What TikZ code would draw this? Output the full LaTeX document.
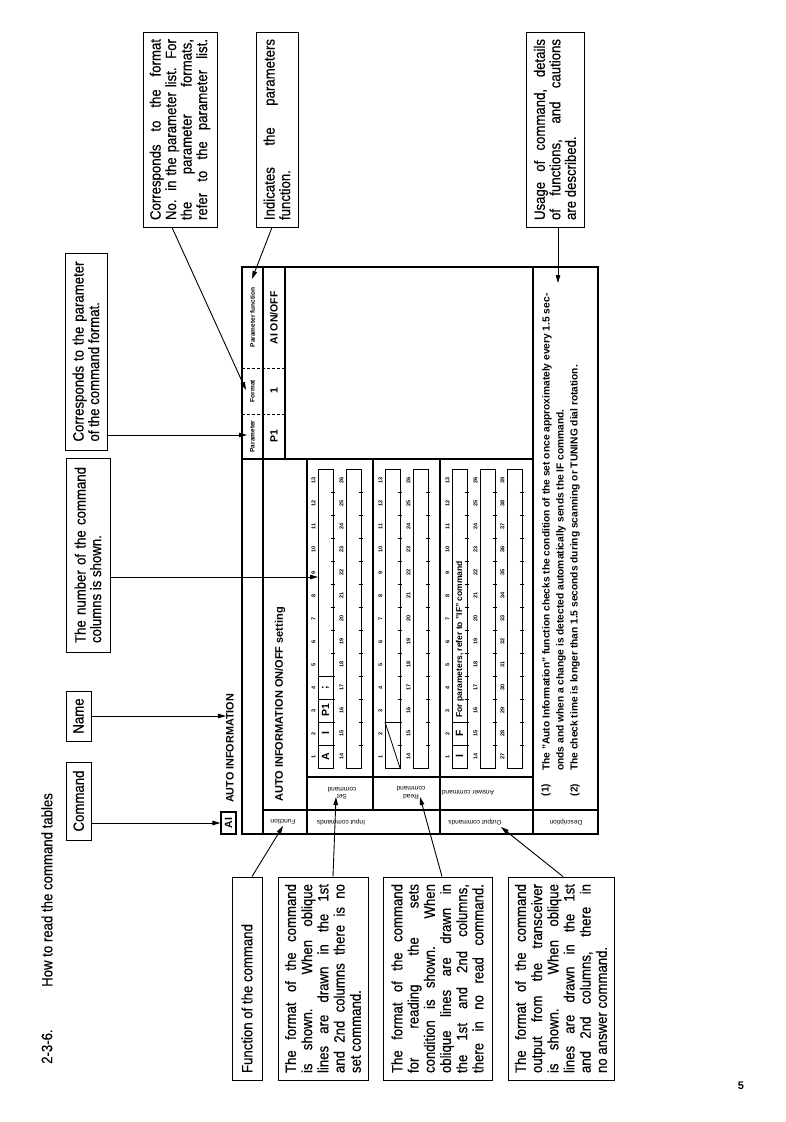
\documentclass[tikz,border=0pt]{standalone}
\usepackage{fontspec}
\setmainfont{Liberation Sans}
\newfontfamily\cond{Liberation Sans}[FakeStretch=0.88,FakeBold=0.4]
\usetikzlibrary{arrows.meta}
\newcommand\js[2]{\makebox[#1][s]{#2}}
\newcommand\jl[2]{\makebox[#1][l]{#2}}
\begin{document}
\begin{tikzpicture}[x=1pt,y=-1pt,
  box/.style={draw,line width=0.9pt,rotate=90,inner sep=0pt,font=\cond\fontsize{15}{15.5}\selectfont,align=left},
  arr/.style={line width=0.9pt,-{Triangle[length=8pt,width=4.5pt]}},
  tl/.style={line width=1.2pt},
  rt/.style={rotate=90,inner sep=0pt},
  ud/.style={rotate=180,inner sep=0pt,font=\fontsize{6.5}{7.5}\selectfont,align=center},
  numlab/.style={rotate=90,inner sep=0pt,font=\bfseries\fontsize{5.5}{6}\selectfont},
  cell/.style={rotate=90,inner sep=0pt,font=\bfseries\fontsize{10.5}{12}\selectfont},
  hdr/.style={rotate=90,inner sep=0pt,font=\bfseries\fontsize{6.5}{7}\selectfont},
  desc/.style={rotate=90,inner sep=0pt,anchor=west,font=\bfseries\fontsize{10.2}{11}\selectfont}
]
\useasboundingbox (0,0) rectangle (786,1122);
\fill[white] (0,0) rectangle (786,1122);

% title
\node[rt,anchor=west,font=\cond\fontsize{15}{16}\selectfont] (titlenum) at (47,1064) {2-3-6.};
\node[rt,anchor=west,font=\cond\fontsize{15}{16}\selectfont] (title) at (47,987) {How to read the command tables};

% callout boxes (top side)
\node[box,minimum width=78pt,minimum height=25pt,align=center] (cmd) at (78.5,801) {Command};
\node[box,minimum width=50pt,minimum height=25pt,align=center] (name) at (78.5,716) {Name};
\node[box,minimum width=194pt,minimum height=44pt] (b3) at (88,555)
  {\js{176pt}{The number of the command}\\\jl{176pt}{columns is shown.}};
\node[box,minimum width=197pt,minimum height=42pt] (b4) at (86,351.5)
  {\js{180pt}{Corresponds to the parameter}\\\jl{180pt}{of the command format.}};
\node[box,minimum width=195pt,minimum height=74pt] (b5) at (180,129.5)
  {\js{181pt}{Corresponds to the format}\\\js{181pt}{No. in the parameter list. For}\\
   \js{181pt}{the parameter formats,}\\\js{181pt}{refer to the parameter list.}};
\node[box,minimum width=195pt,minimum height=42pt] (b6) at (277,129.5)
  {\js{181pt}{Indicates the parameters}\\\jl{181pt}{function.}};
\node[box,minimum width=195pt,minimum height=58pt] (b7) at (555,129.5)
  {\js{181pt}{Usage of command, details}\\\js{181pt}{of functions, and cautions}\\\jl{181pt}{are described.}};

% callout boxes (bottom side)
\node[box,minimum width=203pt,minimum height=30pt] (b8) at (247,978.5)
  {\jl{189pt}{Function of the command}};
\node[box,minimum width=203pt,minimum height=90pt,font=\cond\fontsize{15}{16.2}\selectfont] (b9) at (323,978.5)
  {\js{189pt}{The format of the command}\\\js{189pt}{is shown. When oblique}\\\js{189pt}{lines are drawn in the 1st}\\
   \js{189pt}{and 2nd columns there is no}\\\jl{189pt}{set command.}};
\node[box,minimum width=203pt,minimum height=109pt,font=\cond\fontsize{15}{16.2}\selectfont] (b10) at (437.5,978.5)
  {\js{189pt}{The format of the command}\\\js{189pt}{for reading the sets}\\\js{189pt}{condition is shown. When}\\
   \js{189pt}{oblique lines are drawn in}\\\js{189pt}{the 1st and 2nd columns,}\\\js{189pt}{there in no read command.}};
\node[box,minimum width=203pt,minimum height=106pt,font=\cond\fontsize{15}{16.2}\selectfont] (b11) at (561,978.5)
  {\js{189pt}{The format of the command}\\\js{189pt}{output from the transceiver}\\\js{189pt}{is shown. When oblique}\\
   \js{189pt}{lines are drawn in the 1st}\\\js{189pt}{and 2nd columns, there in}\\\jl{189pt}{no answer command.}};

% command name above the table
\node[draw,rt,line width=1.1pt,font=\bfseries\fontsize{10.5}{12}\selectfont,minimum width=22pt,minimum height=15pt] (ai) at (228.5,823) {AI};
\node[rt,anchor=west,font=\bfseries\fontsize{10.8}{12}\selectfont] (ainame) at (230,803) {AUTO INFORMATION};

% table frame
\draw[tl] (242,267) rectangle (598,834);
\draw[tl] (263,267) -- (263,834);
\draw[tl] (285,267) -- (285,459);
\draw[tl] (242,459) -- (533,459);
\draw[tl] (307,459) -- (307,834);
\draw[tl] (373,459) -- (373,810);
\draw[tl] (440,459) -- (440,834);
\draw[tl] (533,267) -- (533,834);
\draw[tl] (263,810) -- (598,810);
\draw[tl] (307,777) -- (533,777);
\draw[line width=0.7pt,dash pattern=on 3pt off 2pt] (242,368) -- (285,368);
\draw[line width=0.7pt,dash pattern=on 3pt off 2pt] (242,414) -- (285,414);

% parameter table
\node[hdr] (hpf) at (252.5,317.5) {Parameter function};
\node[hdr] (hfm) at (252.5,391) {Format};
\node[hdr] (hpa) at (252.5,436.5) {Parameter};
\node[cell] (vpf) at (274,318) {AI ON/OFF};
\node[cell] (vfm) at (274,391) {1};
\node[cell] (vpa) at (274,436) {P1};

% function text
\node[rt,anchor=west,font=\bfseries\fontsize{11}{12}\selectfont] (ftext) at (280,802) {AUTO INFORMATION ON/OFF setting};

% side labels (upside down)
\node[ud] (lfun) at (283,822) {Function};
\node[ud] (linp) at (341,822) {Input commands};
\node[ud] (lout) at (475,822) {Output commands};
\node[ud] (ldes) at (566,822) {Description};
\node[ud] (lset) at (342,793) {Set\\command};
\node[ud] (lread) at (411,793) {Read\\command};
\node[ud] (lans) at (468,793) {Answer command};

% grids
\foreach \nx/\bl/\s [count=\r] in {313.5/318/1, 341.5/346/14, 380.5/385/1, 408.5/413/14, 447.5/452/1, 475.5/480/14, 502.5/507/27} {
  \draw[line width=0.9pt] (\bl,469) rectangle (\bl+15,768);
  \foreach \k in {1,...,12} \draw[line width=0.8pt] (\bl+12.5,768-23*\k) -- (\bl+16.5,768-23*\k);
  \foreach \k in {0,...,12} {
    \pgfmathtruncatemacro\nn{\s+\k}
    \node[numlab] (num-\r-\k) at (\nx,756.5-23*\k) {\nn};
  }
}
% set command cells
\foreach \yy in {745,722,699,676} \draw[line width=0.9pt] (318,\yy) -- (333,\yy);
\node[cell] (cA) at (325.5,756.5) {A};
\node[cell] (cI) at (325.5,733.5) {I};
\node[cell] (cP) at (325.5,710.5) {P1};
\node[cell] (cS) at (325.5,687.5) {;};
% read command cells
\draw[line width=0.9pt] (385,722) -- (400,722);
\draw[line width=0.8pt] (385,722) -- (400,768);
% answer command cells
\foreach \yy in {745,722} \draw[line width=0.9pt] (452,\yy) -- (467,\yy);
\node[cell] (aI) at (459.5,756.5) {I};
\node[cell] (aF) at (459.5,733.5) {F};
\node[rt,anchor=west,font=\bfseries\fontsize{8.5}{10}\selectfont] (anote) at (460,718) {For parameters, refer to ''IF'' command};

% description
\node[rt,font=\bfseries\fontsize{10}{11}\selectfont] (d1n) at (546,790) {(1)};
\node[rt,font=\bfseries\fontsize{10}{11}\selectfont] (d2n) at (575,790) {(2)};
\node[desc] (d1) at (547,771) {The ''Auto Information'' function checks the condition of the set once approximately every 1.5 sec-};
\node[desc] (d1b) at (561,771) {onds and when a change is detected automatically sends the IF command.};
\node[desc] (d2) at (575,771) {The check time is longer than 1.5 seconds during scanning or TUNING dial rotation.};

% page number
\node[font=\bfseries\fontsize{11}{12}\selectfont] (pg) at (741,1086) {5};

% arrow targets
\coordinate (gridTip) at (318,577);
\coordinate (parTip) at (247,435);
\coordinate (fmtTip) at (246,390);
\coordinate (pfTip) at (252,279);
\coordinate (descTip) at (558,283);
\coordinate (funTip) at (283,826);
\coordinate (setTip) at (336,797);
\coordinate (readTip) at (420,797);
\coordinate (outTip) at (501,827);

% arrows
\draw[arr] (cmd.south |- ai.center) -- (ai.north);
\draw[arr] (name.south) -- (name.south -| ainame.north);
\draw[arr] ([yshift=-22pt]b3.south) -- (gridTip);
\draw[arr] ([yshift=-83.5pt]b4.south) -- (parTip);
\draw[arr] ([xshift=-8pt]b5.west) -- (fmtTip);
\draw[arr] ([xshift=-5pt]b6.west) -- (pfTip);
\draw[arr] ([xshift=3pt]b7.west) -- (descTip);
\draw[arr] ([xshift=5pt]b8.east) -- (funTip);
\draw[arr] ([xshift=10pt]b9.east) -- (setTip);
\draw[arr] ([xshift=4.5pt]b10.east) -- (readTip);
\draw[arr] ([xshift=2pt]b11.east) -- (outTip);
\end{tikzpicture}
\end{document}
